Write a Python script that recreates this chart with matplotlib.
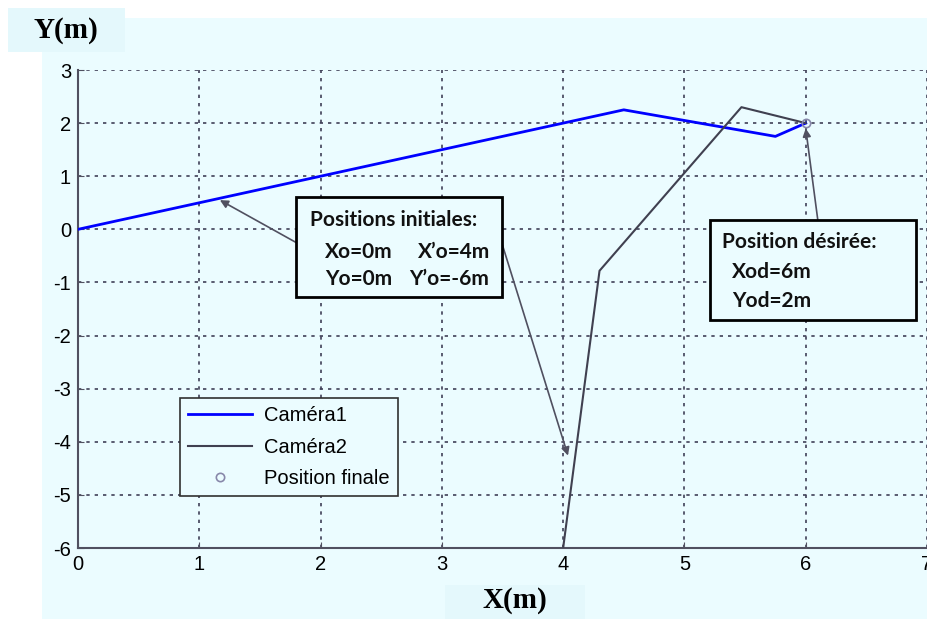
import matplotlib
matplotlib.use("Agg")
import matplotlib.pyplot as plt
from matplotlib.patches import Rectangle

plt.rcParams["axes.unicode_minus"] = False

# trajectories
cam1_x = [0, 4.5, 5.75, 6]
cam1_y = [0, 2.25, 1.75, 2]
cam2_x = [4, 4.3, 5.47, 6]
cam2_y = [-6, -0.78, 2.3, 2]
final_x = [6]
final_y = [2]

xticks = [0, 1, 2, 3, 4, 5, 6, 7]
yticks = [3, 2, 1, 0, -1, -2, -3, -4, -5, -6]

bg = "#ebfcff"
gridc = "#404058"

fig = plt.figure(figsize=(9.28, 6.19), dpi=100, facecolor="white")
fig.patches.append(Rectangle((42 / 928, 0), 1, (619 - 18) / 619,
                             transform=fig.transFigure, facecolor=bg,
                             edgecolor="none", zorder=-10))

ax = fig.add_axes([78 / 928, 71 / 619, 849 / 928, 478 / 619])
ax.set_facecolor(bg)

ax.plot(cam1_x, cam1_y, color="#0000ff", lw=2, label="Caméra1", zorder=3)
ax.plot(cam2_x, cam2_y, color="#404050", lw=1.5, label="Caméra2", zorder=3)
ax.plot(final_x, final_y, "o", mfc="none", mec="#8888aa", ms=6, mew=1.2,
        label="Position finale", zorder=4)

ax.set_xlim(0, 7)
ax.set_ylim(-6, 3)
ax.set_xticks(xticks)
ax.set_yticks(yticks)
ax.grid(True, linestyle=(0, (2, 3)), color=gridc, lw=1.2)
for s in ["top", "right"]:
    ax.spines[s].set_visible(False)
for s in ["left", "bottom"]:
    ax.spines[s].set_color("#505060")
    ax.spines[s].set_linewidth(1.5)
ax.tick_params(direction="in", length=4, color="#505060",
               labelsize=14.5, pad=5)
for lab in ax.get_xticklabels() + ax.get_yticklabels():
    lab.set_fontfamily("Liberation Sans")

leg = ax.legend(loc="lower left", bbox_to_anchor=(0.12, 0.108),
                prop={"family": "Liberation Sans", "size": 14.5},
                fancybox=False, framealpha=1, facecolor=bg,
                edgecolor="#303030", handlelength=3.2, handletextpad=0.6,
                borderaxespad=0, labelspacing=0.62, borderpad=0.4)
leg.get_frame().set_linewidth(1.2)

# annotation boxes
tf = dict(family="Lato", weight="bold", size=15, color="#111111",
          va="center", ha="left", zorder=6)
ax.add_patch(Rectangle((1.80, -1.28), 1.70, 1.88, facecolor=bg,
                       edgecolor="black", lw=2, zorder=5))
ax.text(1.91, 0.17, "Positions initiales:", **tf)
ax.text(2.04, -0.43, "Xo=0m", **tf)
ax.text(2.80, -0.43, "X’o=4m", **tf)
ax.text(2.04, -0.94, "Yo=0m", **tf)
ax.text(2.73, -0.94, "Y’o=-6m", **tf)

ax.add_patch(Rectangle((5.21, -1.71), 1.70, 1.88, facecolor=bg,
                       edgecolor="black", lw=2, zorder=5))
ax.text(5.31, -0.24, "Position désirée:", **tf)
ax.text(5.39, -0.81, "Xod=6m", **tf)
ax.text(5.39, -1.34, "Yod=2m", **tf)

ap = dict(arrowstyle="-|>", color="#505060", lw=1.2, mutation_scale=12,
          shrinkA=0, shrinkB=0)
ax.annotate("", xy=(1.17, 0.55), xytext=(1.8, -0.25), arrowprops=ap, zorder=4)
ax.annotate("", xy=(4.04, -4.26), xytext=(3.5, -0.3), arrowprops=ap, zorder=4)
ax.annotate("", xy=(6.0, 1.9), xytext=(6.1, 0.17), arrowprops=ap, zorder=4)

# axis label boxes
lab_bg = "#e4f8fc"
fig.patches.append(Rectangle((8 / 928, 1 - 52 / 619), 117 / 928, 44 / 619,
                             transform=fig.transFigure, facecolor=lab_bg,
                             edgecolor="none", zorder=-5))
fig.patches.append(Rectangle((445 / 928, 0), 140 / 928, 34 / 619,
                             transform=fig.transFigure, facecolor=lab_bg,
                             edgecolor="none", zorder=-5))
fig.text(66 / 928, 1 - 31 / 619, "Y(m)", family="Liberation Serif",
         weight="bold", size=21, ha="center", va="center")
fig.text(515 / 928, 1 - 601 / 619, "X(m)", family="Liberation Serif",
         weight="bold", size=21, ha="center", va="center")

fig.savefig("out.png", dpi=100, facecolor="white")
